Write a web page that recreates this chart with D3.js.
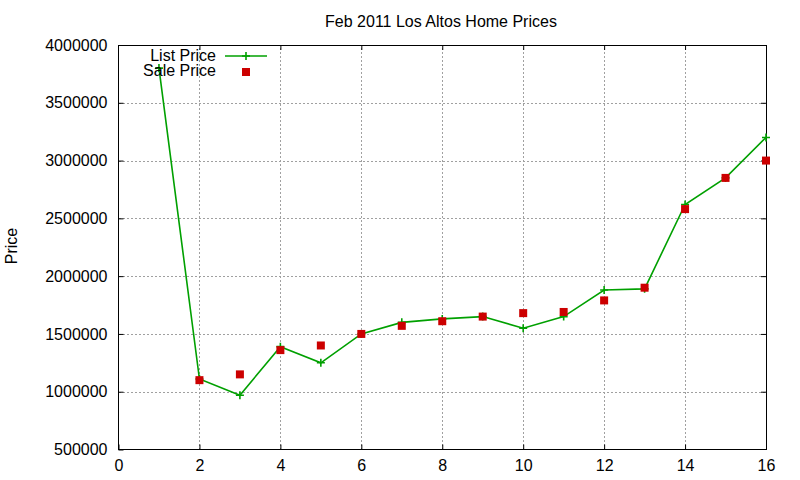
<!DOCTYPE html>
<html>
<head>
<meta charset="utf-8">
<script src="https://cdn.jsdelivr.net/npm/d3@7"></script>
<style>
  body { margin: 0; background: #fff; }
  svg { font-family: "Liberation Sans", Arial, sans-serif; }
  .tick text { font-size: 16px; fill: #000; }
</style>
</head>
<body>
<svg id="chart"></svg>
<script>
// Data
const listX = [1, 2, 3, 4, 5, 6, 7, 8, 9, 10, 11, 12, 13, 14, 15, 16];
const listPrice = [3800000, 1110000, 970000, 1390000, 1250000, 1500000, 1600000, 1630000,
                   1650000, 1550000, 1650000, 1880000, 1890000, 2620000, 2850000, 3200000];
const saleX = [2, 3, 4, 5, 6, 7, 8, 9, 10, 11, 12, 13, 14, 15, 16];
const salePrice = [1100000, 1150000, 1360000, 1400000, 1500000, 1570000, 1610000,
                   1650000, 1680000, 1690000, 1790000, 1900000, 2580000, 2850000, 3000000];
const xTicks = [0, 2, 4, 6, 8, 10, 12, 14, 16];
const yTicks = [500000, 1000000, 1500000, 2000000, 2500000, 3000000, 3500000, 4000000];

const width = 800, height = 480;
const margin = { top: 45, right: 34, bottom: 30.5, left: 118.5 };
const green = '#00a000', red = '#cc0000';

const svg = d3.select('#chart')
  .attr('width', width)
  .attr('height', height);

const x = d3.scaleLinear().domain([0, 16]).range([margin.left, width - margin.right]);
const y = d3.scaleLinear().domain([500000, 4000000]).range([height - margin.bottom, margin.top]);

// Grid lines (dotted gray), only inside the frame
const grid = svg.append('g').attr('shape-rendering', 'crispEdges');
grid.selectAll('.vgrid')
  .data(xTicks.slice(1, -1))
  .enter().append('line')
  .attr('x1', d => Math.round(x(d)) + 0.5).attr('x2', d => Math.round(x(d)) + 0.5)
  .attr('y1', y.range()[0]).attr('y2', y.range()[1])
  .attr('stroke', '#a0a0a0').attr('stroke-dasharray', '2,2');
grid.selectAll('.hgrid')
  .data(yTicks.slice(1, -1))
  .enter().append('line')
  .attr('x1', x.range()[0]).attr('x2', x.range()[1])
  .attr('y1', d => Math.round(y(d)) + 0.5).attr('y2', d => Math.round(y(d)) + 0.5)
  .attr('stroke', '#a0a0a0').attr('stroke-dasharray', '2,2');

// Axes with inward ticks, mirrored on top/right
const tickLen = 5;
const xAxis = svg.append('g')
  .attr('transform', `translate(0,${y.range()[0]})`)
  .call(d3.axisBottom(x).tickValues(xTicks).tickSize(-tickLen).tickPadding(tickLen + 5));
const xAxisTop = svg.append('g')
  .attr('transform', `translate(0,${y.range()[1]})`)
  .call(d3.axisTop(x).tickValues(xTicks).tickSize(-tickLen).tickFormat(''));
const yAxis = svg.append('g')
  .attr('transform', `translate(${x.range()[0]},0)`)
  .call(d3.axisLeft(y).tickValues(yTicks).tickSize(-tickLen).tickPadding(tickLen + 6).tickFormat(d3.format('d')));
const yAxisRight = svg.append('g')
  .attr('transform', `translate(${x.range()[1]},0)`)
  .call(d3.axisRight(y).tickValues(yTicks).tickSize(-tickLen).tickFormat(''));

[xAxis, xAxisTop, yAxis, yAxisRight].forEach(a => {
  a.selectAll('.domain').attr('stroke', '#000').attr('d', null);
  a.selectAll('.tick line').attr('stroke', '#000');
  a.attr('font-family', null).attr('font-size', null);
});
// hide end ticks that land on the frame
xAxisTop.selectAll('.tick').filter(d => d === 0 || d === 16).remove();
yAxisRight.selectAll('.tick').filter(d => d === 500000 || d === 4000000).remove();

// Frame
svg.append('rect')
  .attr('x', x.range()[0]).attr('y', y.range()[1])
  .attr('width', x.range()[1] - x.range()[0])
  .attr('height', y.range()[0] - y.range()[1])
  .attr('fill', 'none').attr('stroke', '#000')
  .attr('shape-rendering', 'crispEdges');

// List price line with plus markers
const line = d3.line().x((d, i) => x(listX[i])).y(d => y(d));
svg.append('path')
  .datum(listPrice)
  .attr('d', line)
  .attr('fill', 'none')
  .attr('stroke', green)
  .attr('stroke-width', 1.6);

const plus = (px, py, s) => `M${px - s},${py}H${px + s}M${px},${py - s}V${py + s}`;
svg.append('path')
  .attr('d', listPrice.map((d, i) => plus(x(listX[i]), y(d), 4)).join(''))
  .attr('stroke', green)
  .attr('stroke-width', 1.6)
  .attr('fill', 'none');

// Sale price squares
svg.selectAll('.sale')
  .data(salePrice)
  .enter().append('rect')
  .attr('class', 'sale')
  .attr('x', (d, i) => x(saleX[i]) - 4)
  .attr('y', d => y(d) - 4)
  .attr('width', 8).attr('height', 8)
  .attr('fill', red);

// Title and axis label
svg.append('text')
  .attr('x', 441).attr('y', 26.5)
  .attr('text-anchor', 'middle')
  .attr('font-size', 16)
  .text('Feb 2011 Los Altos Home Prices');

svg.append('text')
  .attr('transform', 'translate(17,246) rotate(-90)')
  .attr('text-anchor', 'middle')
  .attr('font-size', 16)
  .text('Price');

// Legend
const legend = svg.append('g');
legend.append('text')
  .attr('x', 216).attr('y', 61)
  .attr('text-anchor', 'end').attr('font-size', 16)
  .text('List Price');
legend.append('line')
  .attr('x1', 225).attr('x2', 267).attr('y1', 56).attr('y2', 56)
  .attr('stroke', green).attr('stroke-width', 1.6);
legend.append('path')
  .attr('d', plus(246, 56, 4))
  .attr('stroke', green).attr('stroke-width', 1.6);
legend.append('text')
  .attr('x', 216).attr('y', 76)
  .attr('text-anchor', 'end').attr('font-size', 16)
  .text('Sale Price');
legend.append('rect')
  .attr('x', 242).attr('y', 68).attr('width', 8).attr('height', 8)
  .attr('fill', red);
</script>
</body>
</html>
